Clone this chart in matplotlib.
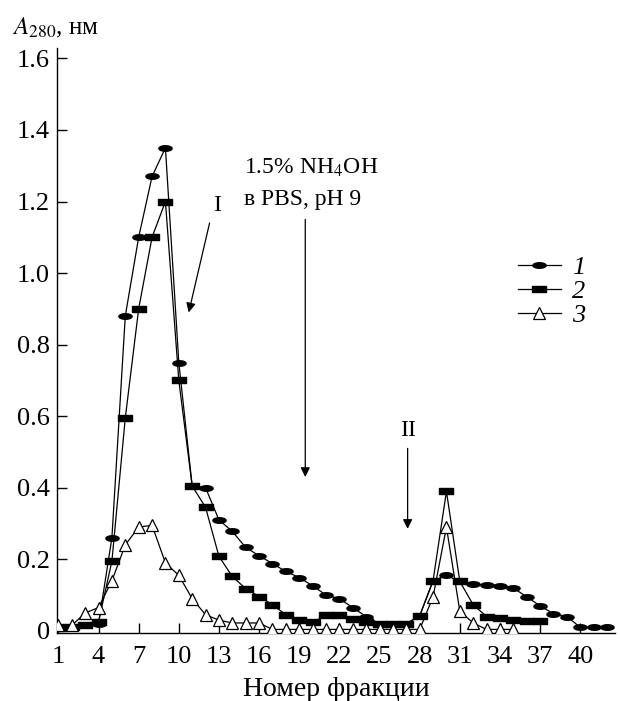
import matplotlib
matplotlib.use("Agg")
import matplotlib.pyplot as plt
import numpy as np
from matplotlib.path import Path

plt.rcParams['font.family'] = ['Liberation Serif', 'DejaVu Serif']
plt.rcParams['mathtext.fontset'] = 'stix'

# ---- data ----
fractions_1 = list(range(1, 43))
series_1 = [0.01, 0.01, 0.015, 0.02, 0.26, 0.88, 1.10, 1.27, 1.35, 0.75,
            0.405, 0.40, 0.31, 0.278, 0.233, 0.21, 0.188, 0.166, 0.149, 0.126,
            0.10, 0.09, 0.065, 0.04, 0.02, 0.02, 0.02, 0.042, 0.14, 0.155,
            0.138, 0.13, 0.128, 0.126, 0.12, 0.095, 0.07, 0.048, 0.04, 0.01,
            0.01, 0.01]

fractions_2 = list(range(1, 38))
series_2 = [0.01, 0.01, 0.015, 0.025, 0.195, 0.595, 0.90, 1.10, 1.20, 0.70,
            0.405, 0.345, 0.208, 0.152, 0.118, 0.096, 0.073, 0.045, 0.031, 0.024,
            0.043, 0.043, 0.034, 0.026, 0.02, 0.02, 0.02, 0.042, 0.14, 0.39,
            0.138, 0.073, 0.04, 0.035, 0.03, 0.028, 0.028]

fractions_3 = list(range(1, 36))
series_3 = [0.015, 0.015, 0.05, 0.065, 0.14, 0.24, 0.29, 0.295, 0.19, 0.155,
            0.09, 0.045, 0.03, 0.022, 0.022, 0.022, 0.004, 0.004, 0.004, 0.004,
            0.004, 0.004, 0.004, 0.004, 0.004, 0.004, 0.004, 0.004, 0.095, 0.29,
            0.055, 0.022, 0.004, 0.004, 0.004]

series_labels = ['1', '2', '3']
xtick_values = list(range(1, 41, 3))
ytick_values = [0, 0.2, 0.4, 0.6, 0.8, 1.0, 1.2, 1.4, 1.6]
ytick_labels = ['0', '0.2', '0.4', '0.6', '0.8', '1.0', '1.2', '1.4', '1.6']

# ---- markers ----
t = np.linspace(0, 2 * np.pi, 40)
ellipse = Path(np.column_stack([np.cos(t), 0.42 * np.sin(t)]), closed=True)
rect = Path([(-1, -0.4), (1, -0.4), (1, 0.4), (-1, 0.4), (-1, -0.4)], closed=True)

fig = plt.figure(figsize=(6.2, 7.01), dpi=100)
ax = fig.add_axes([0.092, 0.097, 0.9, 0.835])

lw = 0.9
ax.plot(fractions_1, series_1, color='black', lw=lw, marker=ellipse, ms=9.5,
        mfc='black', mec='black', label=series_labels[0], zorder=3)
ax.plot(fractions_2, series_2, color='black', lw=lw, marker=rect, ms=9.5,
        mfc='black', mec='black', label=series_labels[1], zorder=3)
ax.plot(fractions_3, series_3, color='black', lw=lw, marker='^', ms=8,
        mfc='white', mec='black', mew=0.9, label=series_labels[2], zorder=4)

ax.set_xlim(0.9, 42.6)
ax.set_ylim(-0.006, 1.63)

ax.spines['top'].set_visible(False)
ax.spines['right'].set_visible(False)
ax.spines['left'].set_linewidth(1.0)
ax.spines['bottom'].set_linewidth(1.0)

ax.set_xticks(xtick_values)
ax.set_xticklabels([str(v) for v in xtick_values])
ax.set_yticks(ytick_values)
ax.set_yticklabels(ytick_labels)
ax.tick_params(axis='both', direction='in', length=7, width=1.0, labelsize=19)
ax.tick_params(axis='x', pad=9)
ax.tick_params(axis='y', pad=5)

ax.set_xlabel('Номер фракции', fontsize=20, labelpad=7)
fig.text(0.02, 0.96, '$A_{280}$, нм', fontsize=18, ha='left', va='center')

# annotations
ax.annotate('', xy=(10.74, 0.89), xytext=(12.3, 1.14),
            arrowprops=dict(arrowstyle='-|>', color='black', lw=0.9,
                            mutation_scale=14, shrinkA=0, shrinkB=0))
ax.text(12.85, 1.19, 'I', fontsize=17, ha='center', va='center')

ax.annotate('', xy=(19.45, 0.43), xytext=(19.45, 1.15),
            arrowprops=dict(arrowstyle='-|>', color='black', lw=0.9,
                            mutation_scale=14, shrinkA=0, shrinkB=0))
ax.text(14.9, 1.295, '1.5% NH$_4$OH', fontsize=17, ha='left', va='center')
ax.text(14.9, 1.205, 'в PBS, pH 9', fontsize=17, ha='left', va='center')

ax.annotate('', xy=(27.1, 0.285), xytext=(27.1, 0.51),
            arrowprops=dict(arrowstyle='-|>', color='black', lw=0.9,
                            mutation_scale=14, shrinkA=0, shrinkB=0))
ax.text(27.1, 0.56, 'II', fontsize=17, ha='center', va='center')

leg = ax.legend(loc='upper left', bbox_to_anchor=(0.836, 0.635),
                bbox_transform=fig.transFigure, frameon=False,
                handlelength=1.6, handletextpad=0.45, labelspacing=0.02,
                borderpad=0, borderaxespad=0, prop={'size': 19, 'style': 'italic'})

fig.savefig('out.png', dpi=100)
